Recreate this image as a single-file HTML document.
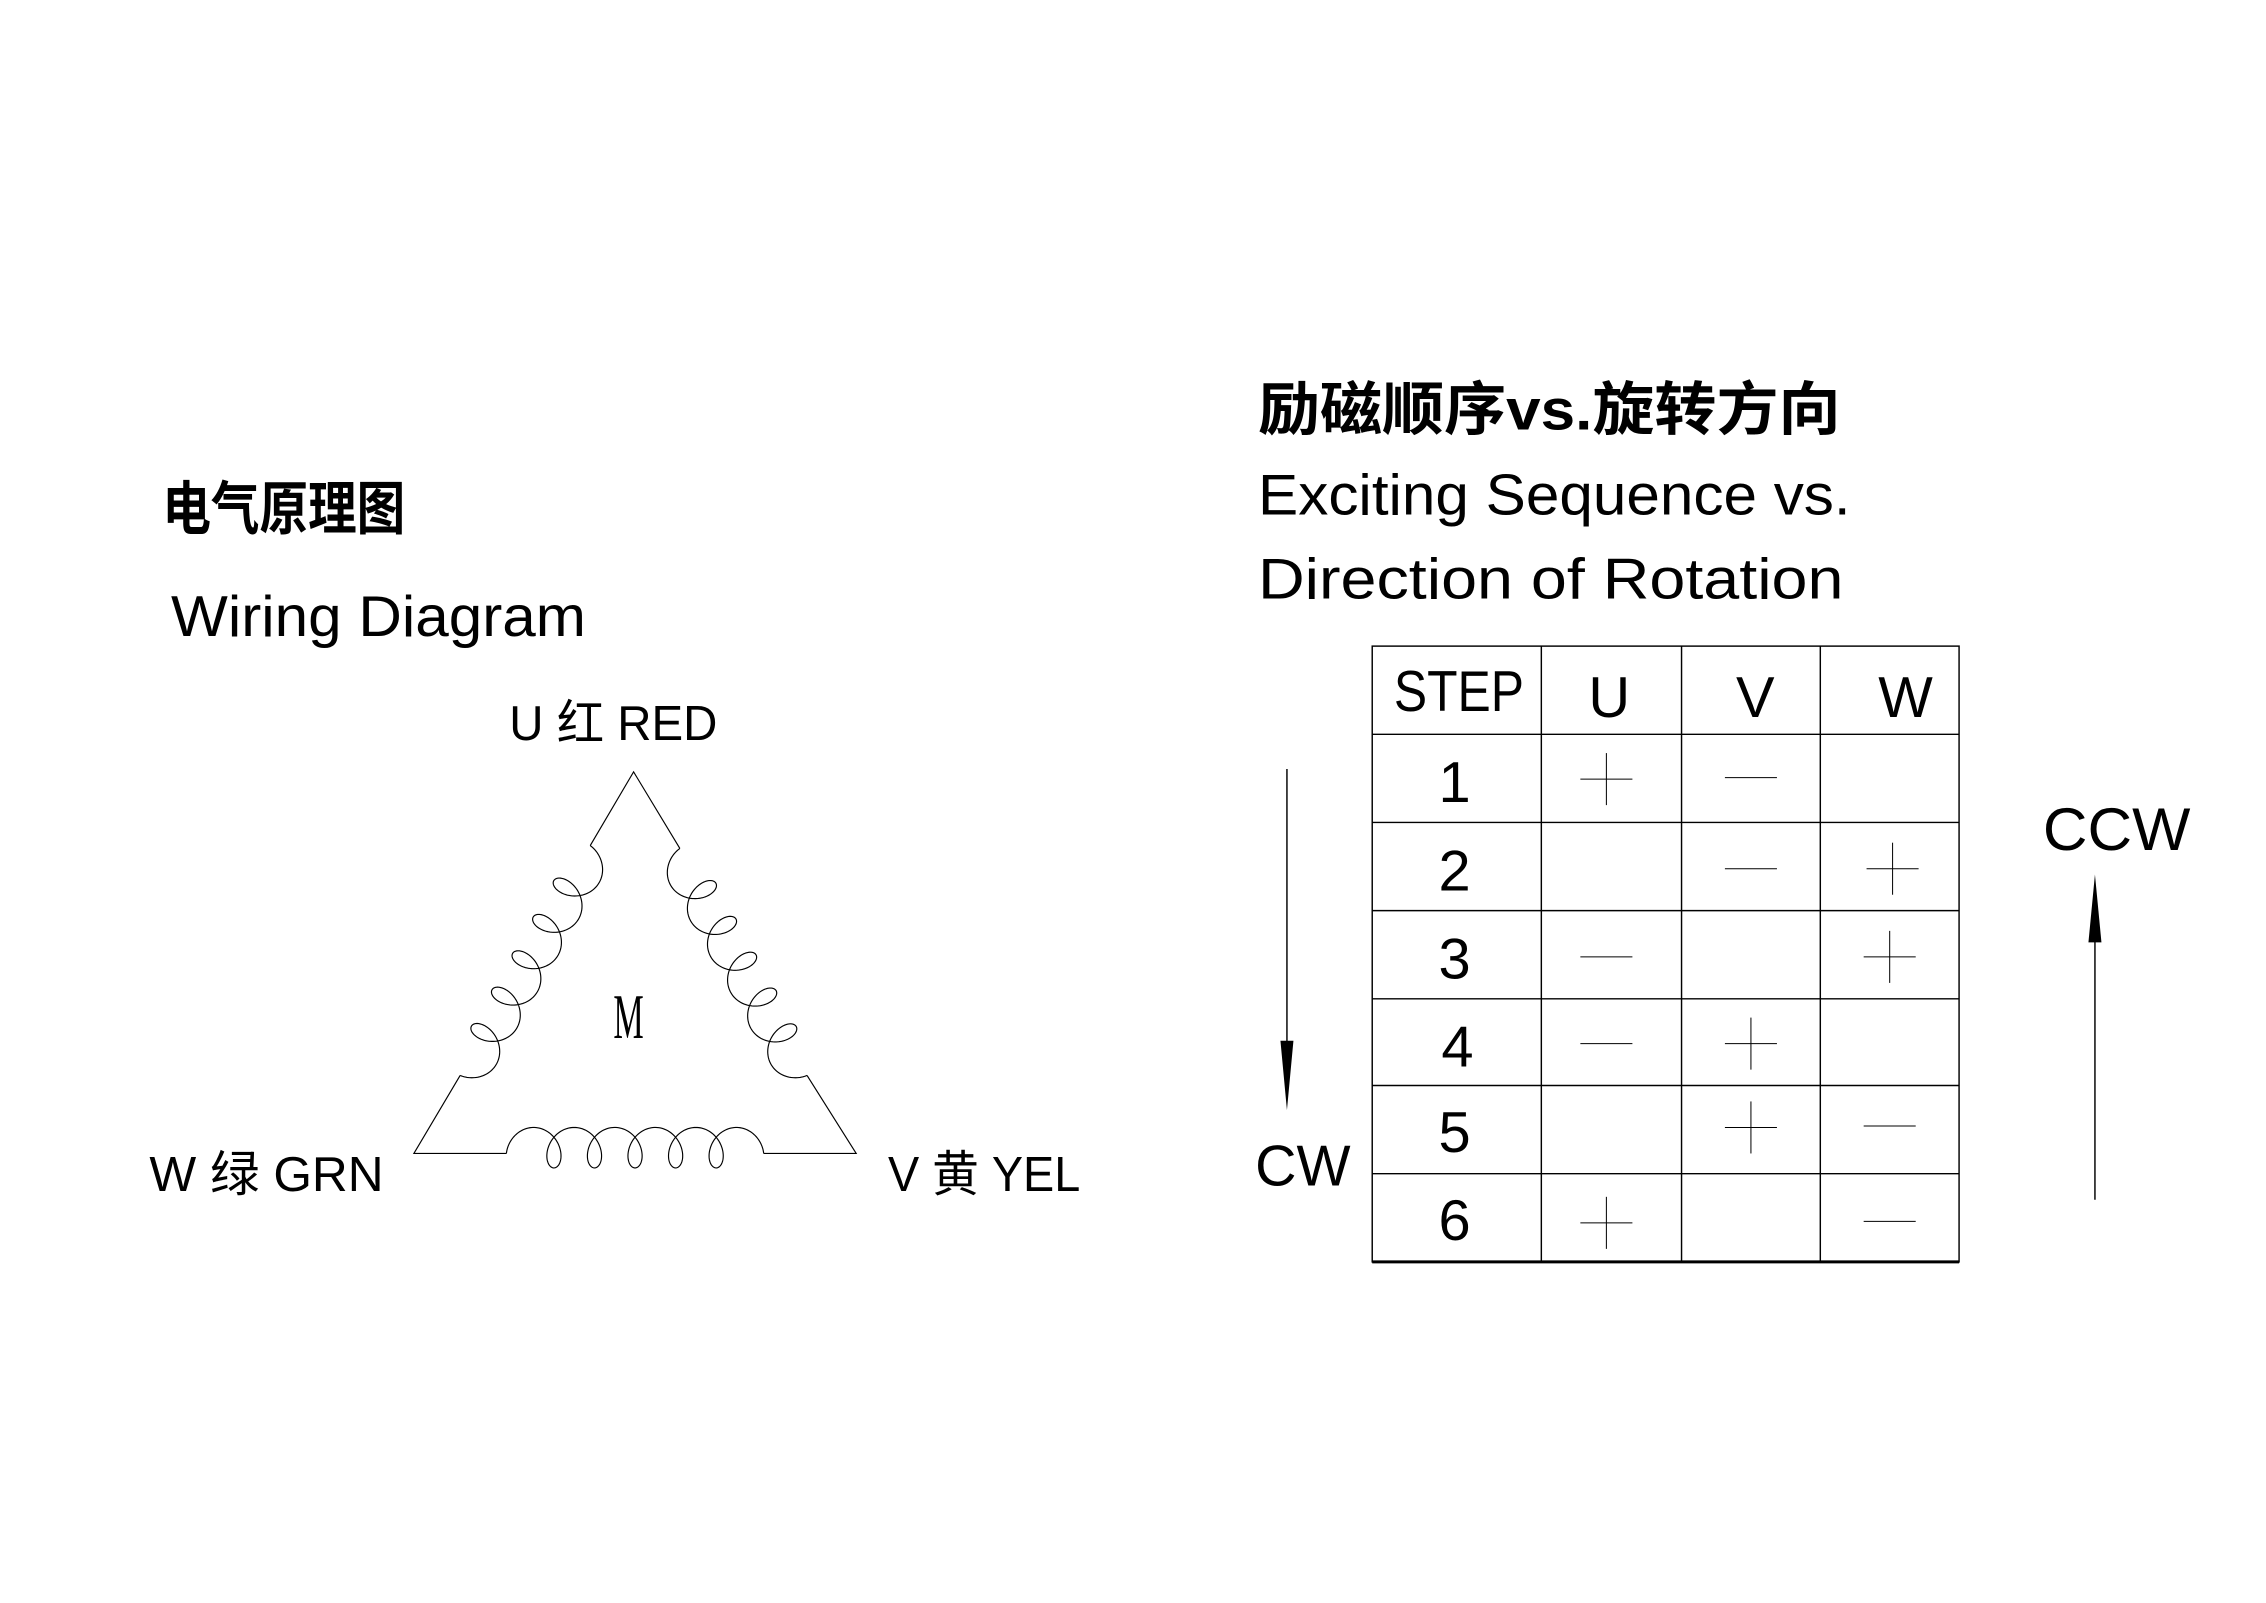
<!DOCTYPE html>
<html><head><meta charset="utf-8"><style>
html,body{margin:0;padding:0;background:#fff;}
svg{display:block;}
text{font-family:"Liberation Sans","Noto Sans CJK SC",sans-serif;fill:#000;}
</style></head><body>
<svg id="s" width="2266" height="1603" viewBox="0 0 1567 1109" xmlns="http://www.w3.org/2000/svg">
<rect width="1567" height="1109" fill="#fff"/>
<text x="112" y="366" font-size="40" font-weight="bold" textLength="168" lengthAdjust="spacingAndGlyphs">电气原理图</text>
<text x="118" y="440" font-size="40" textLength="287" lengthAdjust="spacingAndGlyphs">Wiring Diagram</text>
<text x="352" y="512" font-size="34" textLength="144" lengthAdjust="spacingAndGlyphs">U 红 RED</text>
<text x="103" y="824" font-size="34" textLength="162" lengthAdjust="spacingAndGlyphs">W 绿 GRN</text>
<text x="614" y="824" font-size="34" textLength="133" lengthAdjust="spacingAndGlyphs">V 黄 YEL</text>
<text x="424" y="718" font-size="44" style="font-family:'Liberation Serif',serif" textLength="21" lengthAdjust="spacingAndGlyphs">M</text>
<g fill="none" stroke="#000" stroke-width="0.8">
<polyline points="408,585 438,534 470,587"/>
<polyline points="318,744 286,798 350,798"/>
<polyline points="528,798 592,798 558,744"/>
<path id="c1"/><path id="c2"/><path id="c3"/>
</g>
<text x="870" y="297" font-size="40" font-weight="bold" textLength="403" lengthAdjust="spacingAndGlyphs">励磁顺序vs.旋转方向</text>
<text x="870" y="356" font-size="40" textLength="410" lengthAdjust="spacingAndGlyphs">Exciting Sequence vs.</text>
<text x="870" y="414" font-size="40" textLength="405" lengthAdjust="spacingAndGlyphs">Direction of Rotation</text>
<g stroke="#000" stroke-width="1" fill="none">
<rect x="949" y="447" width="406" height="426"/>
<line x1="1066" y1="447" x2="1066" y2="873"/>
<line x1="1163" y1="447" x2="1163" y2="873"/>
<line x1="1259" y1="447" x2="1259" y2="873"/>
<line x1="949" y1="508" x2="1355" y2="508"/>
<line x1="949" y1="569" x2="1355" y2="569"/>
<line x1="949" y1="630" x2="1355" y2="630"/>
<line x1="949" y1="691" x2="1355" y2="691"/>
<line x1="949" y1="751" x2="1355" y2="751"/>
<line x1="949" y1="812" x2="1355" y2="812"/>
<line x1="949" y1="873" x2="1355" y2="873" stroke-width="2"/>
</g>
<text x="964" y="492" font-size="40" textLength="90" lengthAdjust="spacingAndGlyphs">STEP</text>
<text x="1113" y="496" font-size="40" text-anchor="middle">U</text>
<text x="1214" y="496" font-size="40" text-anchor="middle">V</text>
<text x="1318" y="496" font-size="40" text-anchor="middle">W</text>
<g font-size="40" text-anchor="middle">
<text x="1006" y="555">1</text>
<text x="1006" y="616">2</text>
<text x="1006" y="677">3</text>
<text x="1008" y="738">4</text>
<text x="1006" y="797">5</text>
<text x="1006" y="858">6</text>
</g>
<g id="marks" stroke="#000" stroke-width="0.7"></g>
<g stroke="#000" stroke-width="1">
<line x1="890" y1="532" x2="890" y2="740"/>
<line x1="1449" y1="830" x2="1449" y2="640"/>
</g>
<polygon points="885.5,720 894.5,720 890,768" fill="#000"/>
<polygon points="1444.5,652 1453.5,652 1449,605" fill="#000"/>
<text x="868" y="820" font-size="40" textLength="66" lengthAdjust="spacingAndGlyphs">CW</text>
<text x="1413" y="588" font-size="42" textLength="102" lengthAdjust="spacingAndGlyphs">CCW</text>
</svg>
<script>
function coil(S,E,inward){
  var dx=E[0]-S[0],dy=E[1]-S[1],L=Math.hypot(dx,dy),ux=dx/L,uy=dy/L;
  var ru=11,rh=14,t0=1.28,te=12*Math.PI-t0;
  var p=(L-2*ru*Math.sin(t0))/(6-t0/Math.PI);
  var d="",n=500;
  for(var i=0;i<=n;i++){
    var t=t0+(te-t0)*i/n;
    var u=p*(t-t0)/(2*Math.PI)-ru*(Math.sin(t)-Math.sin(t0));
    var h=rh*(1-Math.cos(t))-10;
    var x=S[0]+u*ux+h*inward[0],y=S[1]+u*uy+h*inward[1];
    d+=(i?"L":"M")+x.toFixed(2)+","+y.toFixed(2);
  }
  return d;
}
document.getElementById("c1").setAttribute("d",coil([350,798],[528,798],[0,-1]));
var a=Math.hypot(159,90);
document.getElementById("c2").setAttribute("d",coil([408,585],[318,744],[159/a,90/a]));
var b=Math.hypot(157,88);
document.getElementById("c3").setAttribute("d",coil([470,587],[558,744],[-157/b,88/b]));
var m=[["+",1111,539],["-",1211,538],["-",1211,601],["+",1309,601],["-",1111,662],["+",1307,662],
["-",1111,722],["+",1211,722],["+",1211,780],["-",1307,779],["+",1111,846],["-",1307,845]];
var g=document.getElementById("marks"),ns="http://www.w3.org/2000/svg";
m.forEach(function(k){
  var l=document.createElementNS(ns,"line");
  l.setAttribute("x1",k[1]-18);l.setAttribute("x2",k[1]+18);l.setAttribute("y1",k[2]);l.setAttribute("y2",k[2]);g.appendChild(l);
  if(k[0]=="+"){var v=document.createElementNS(ns,"line");
  v.setAttribute("x1",k[1]);v.setAttribute("x2",k[1]);v.setAttribute("y1",k[2]-18);v.setAttribute("y2",k[2]+18);g.appendChild(v);}
});
</script>
</body></html>
